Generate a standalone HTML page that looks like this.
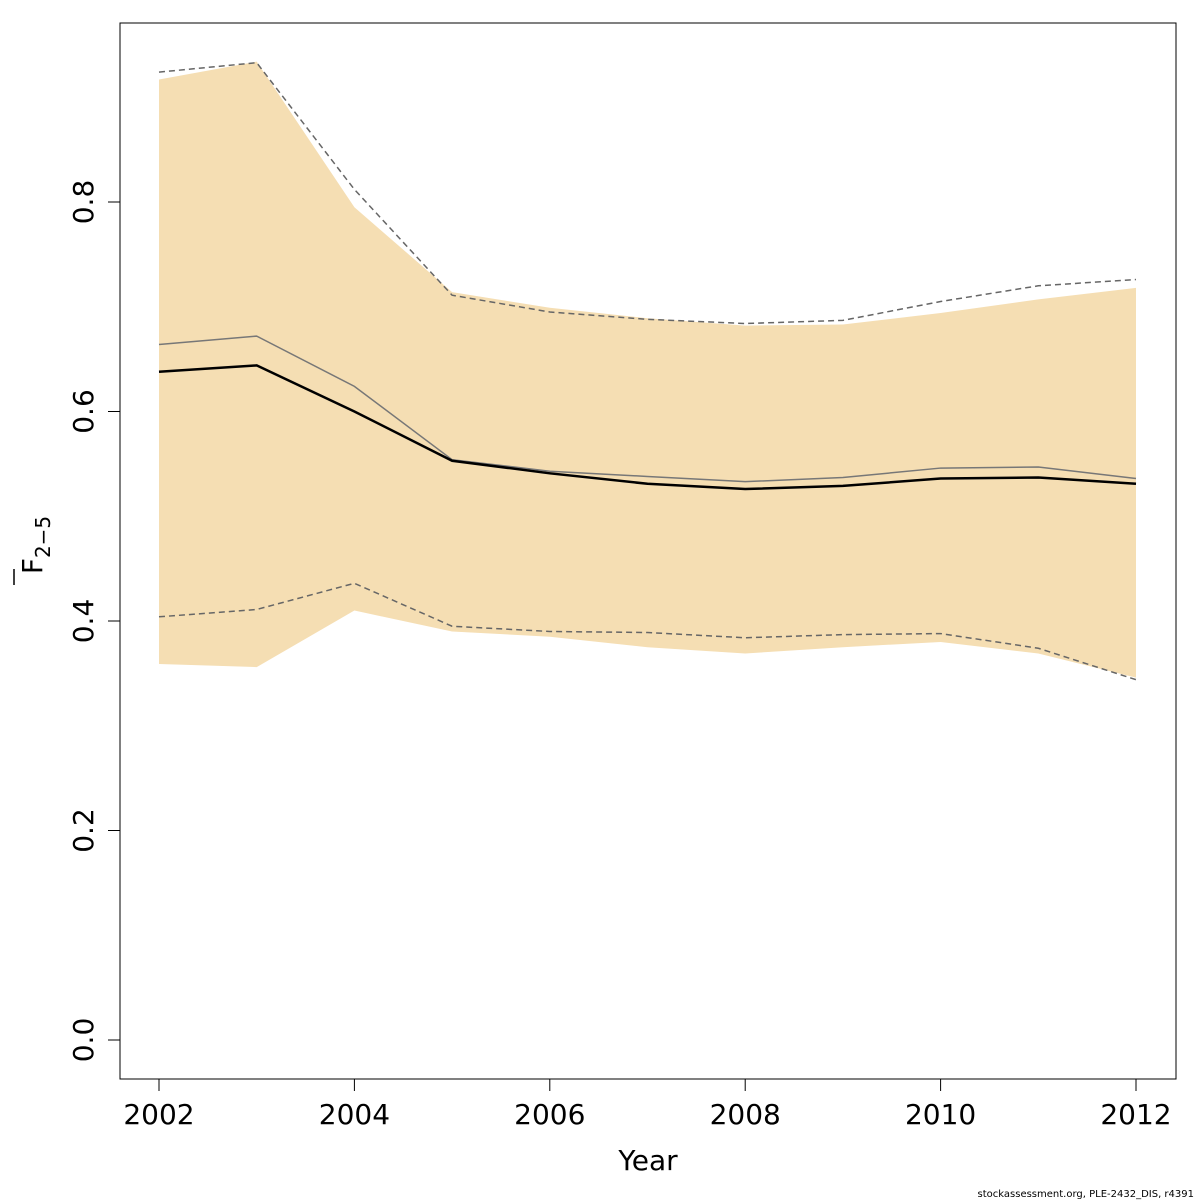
<!DOCTYPE html>
<html><head><meta charset="utf-8"><style>
body{margin:0;background:#fff;}
svg{display:block;font-family:"DejaVu Sans","Liberation Sans",sans-serif;}
</style></head><body>
<svg id="chart" width="1200" height="1200" viewBox="0 0 1200 1200">
<rect x="0" y="0" width="1200" height="1200" fill="#fff"/>
<g id="band"></g>
<g id="lines"></g>
<rect x="120" y="23" width="1056" height="1056" fill="none" stroke="#000" stroke-width="1"/>
<g id="xaxis"></g>
<g id="yaxis"></g>
<text x="648" y="1170" font-size="28" text-anchor="middle">Year</text>
<g transform="translate(42,545) rotate(-90)">
<text x="0" y="0" font-size="28" text-anchor="middle">F<tspan font-size="20" dy="8">2−5</tspan></text>
<line x1="-40" y1="-28" x2="-24" y2="-28" stroke="#000" stroke-width="1.5"/>
</g>
<text x="1194" y="1197" font-size="10" text-anchor="end">stockassessment.org, PLE-2432_DIS, r4391</text>
</svg>
<script>
const years=[2002,2003,2004,2005,2006,2007,2008,2009,2010,2011,2012];
const estimate=[0.638,0.644,0.600,0.553,0.541,0.531,0.526,0.529,0.536,0.537,0.531];
const reference=[0.664,0.672,0.624,0.554,0.543,0.538,0.533,0.537,0.546,0.547,0.536];
const refUpper=[0.924,0.933,0.812,0.711,0.695,0.688,0.684,0.687,0.705,0.720,0.726];
const refLower=[0.404,0.411,0.436,0.395,0.390,0.389,0.384,0.387,0.388,0.374,0.344];
const bandUpper=[0.917,0.934,0.795,0.714,0.699,0.689,0.682,0.683,0.694,0.707,0.718];
const bandLower=[0.359,0.356,0.410,0.390,0.385,0.375,0.369,0.375,0.380,0.369,0.346];
const xTicks=[2002,2004,2006,2008,2010,2012];
const yTicks=[0.0,0.2,0.4,0.6,0.8];
const yTickLabels=["0.0","0.2","0.4","0.6","0.8"];

const NS="http://www.w3.org/2000/svg";
const xs=y=>159+(y-2002)*97.7;
const ys=v=>1040-v*1047.5;
function mk(tag,attrs,parent){const e=document.createElementNS(NS,tag);for(const k in attrs)e.setAttribute(k,attrs[k]);parent.appendChild(e);return e;}
const band=document.getElementById('band');
let pts=years.map((y,i)=>xs(y)+','+ys(bandUpper[i]));
pts=pts.concat(years.map((y,i)=>xs(y)+','+ys(bandLower[i])).reverse());
const poly=mk('polygon',{points:pts.join(' '),fill:'#F5DEB3'},band);


const lines=document.getElementById('lines');
function line(arr,stroke,w,dash,name){
  const p=mk('polyline',{points:years.map((y,i)=>xs(y)+','+ys(arr[i])).join(' '),fill:'none',stroke:stroke,'stroke-width':w},lines);
  if(dash)p.setAttribute('stroke-dasharray',dash);
  
  
}
line(refUpper,'#666',1.5,'6,4','reference-upper-line');
line(refLower,'#666',1.5,'6,4','reference-lower-line');
line(reference,'#777',1.5,null,'reference-line');
line(estimate,'#000',2.5,null,'estimate-line');
const xa=document.getElementById('xaxis');
xTicks.forEach(t=>{
  const l=mk('line',{x1:xs(t),x2:xs(t),y1:1079,y2:1091,stroke:'#000'},xa);
  
  
  const tx=mk('text',{x:xs(t),y:1124,'font-size':28,'text-anchor':'middle'},xa);
  tx.textContent=t;
  
  
});
const ya=document.getElementById('yaxis');
yTicks.forEach((t,i)=>{
  const l=mk('line',{x1:108,x2:120,y1:ys(t),y2:ys(t),stroke:'#000'},ya);
  
  
  const tx=mk('text',{x:0,y:0,'font-size':28,'text-anchor':'middle',transform:`translate(93,${ys(t)}) rotate(-90)`},ya);
  tx.textContent=yTickLabels[i];
  
  
});
</script>
</body></html>
